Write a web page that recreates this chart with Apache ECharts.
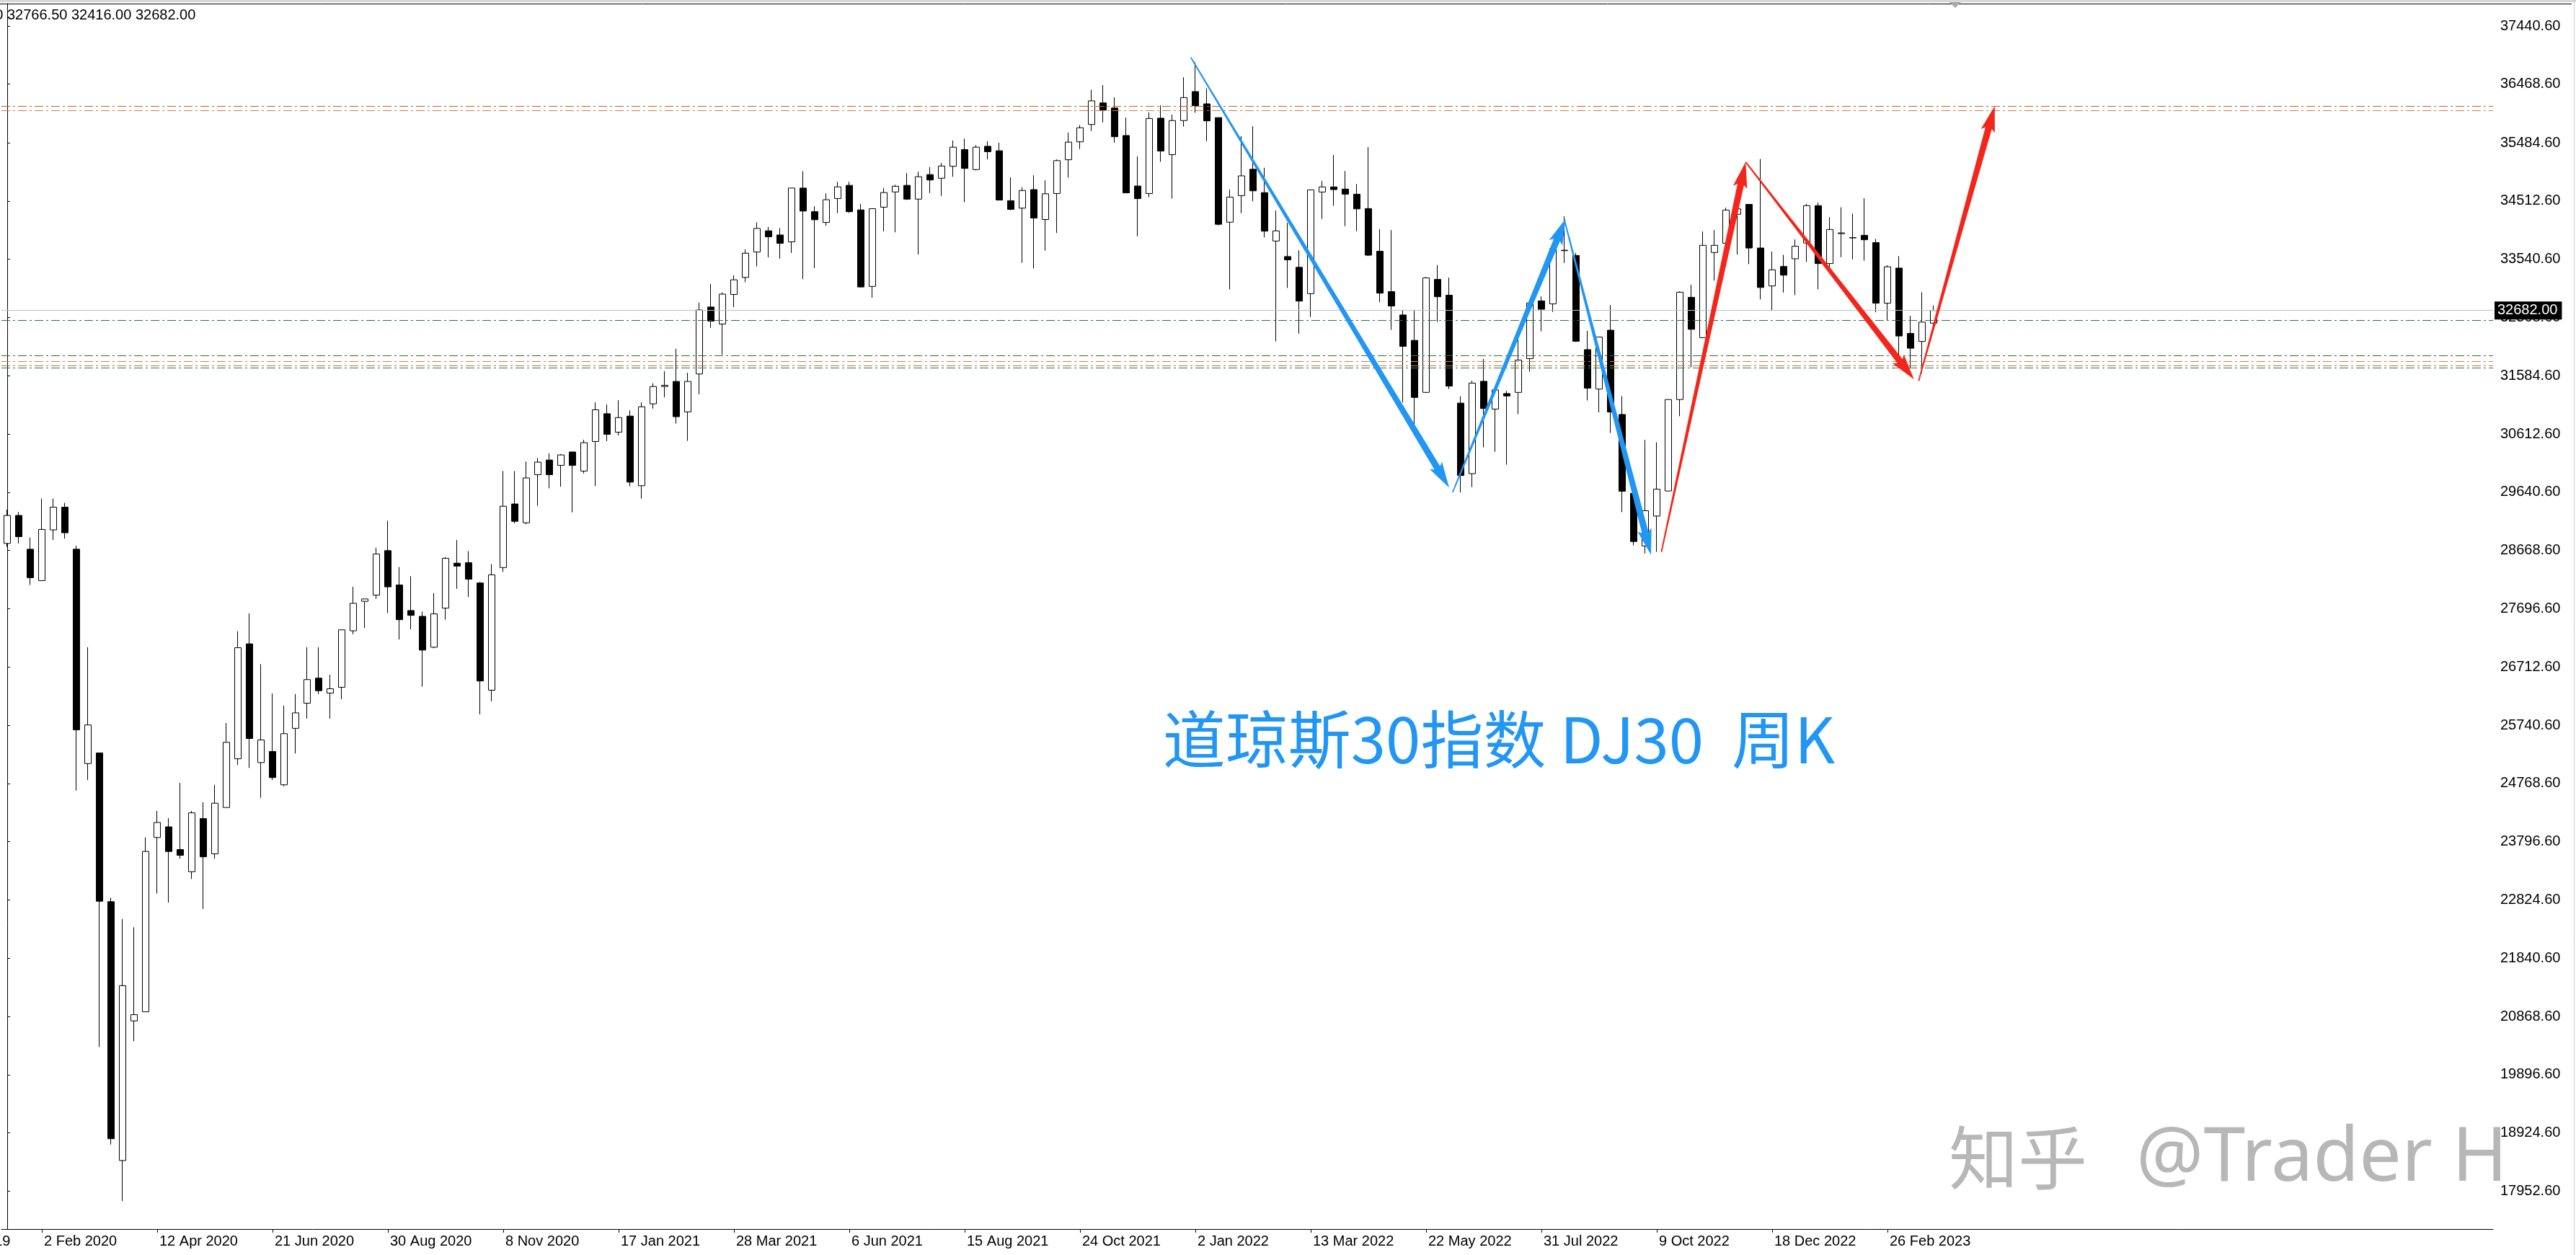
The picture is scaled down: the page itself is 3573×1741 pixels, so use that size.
<!DOCTYPE html>
<html><head><meta charset="utf-8">
<script src="https://cdn.jsdelivr.net/npm/echarts@6/dist/echarts.min.js"></script>
<style>html,body{margin:0;padding:0;background:#fff;overflow:hidden}#c{width:3573px;height:1741px}</style>
</head><body><div id="c"></div>
<script>
// ---- data (DJ30 weekly, first bar = week of 12 Jan 2020) ----
const startDate = '2020-01-12';
const opens = [28785,29253,28688,28163,29011,29391,28688,25101,25279,22791,
18461,20796,20949,23865,24043,23663,23292,24181,23591,24366,
25182,27105,25118,25304,24746,25691,26111,26531,26281,26378,
27323,27816,27920,28664,28090,27662,27565,27048,27702,28454,
28462,28123,26329,28381,29445,29130,29935,30180,30090,30315,
29995,30490,30955,30645,30915,29750,31120,31410,31495,30985,
31620,32740,32455,32950,33235,33660,34015,33945,33830,34730,
34335,34155,34555,34775,34365,33085,34410,34665,34775,34545,
34955,34894,35094,35374,35039,35429,35354,34519,34394,34704,
34204,34639,35204,35504,35794,36154,36069,35609,34764,34639,
35899,35289,35859,36344,36139,35909,34159,34604,35044,34654,
33844,33584,33404,32964,34664,34749,34713,34627,34387,33672,
32997,32607,32182,31312,33202,32937,31132,29952,31497,31032,
31292,31312,31877,32842,32792,33682,33602,32027,31367,32352,
30942,29622,28742,29242,29662,31192,32902,32227,33652,33807,
34292,34457,33727,33092,33418,33547,33811,34436,33467,33967,
33897,33940,33817,32804,33391,32298,32164,32470];
const highs = [29350,29310,28882,29536,29536,29463,28745,27048,25279,22856,
22500,22363,23865,24310,24189,24778,24310,24455,24746,25780,
27315,27614,26765,26273,26071,26265,27048,27048,26588,27339,
28058,27856,28712,29165,28389,28236,27646,27953,28559,28841,
28656,28139,28438,29997,29995,30155,30215,30295,30280,30315,
30520,31145,31110,31180,31010,31145,31465,31665,32040,31640,
32815,33125,32985,33270,33705,34155,34080,34060,34730,35010,
34425,34640,34835,34835,34465,34385,34730,34785,34980,35005,
35080,35149,35524,35559,35449,35514,35489,34909,34744,34944,
34859,35209,35659,35784,36374,36454,36249,35909,35259,35994,
36114,35959,36584,36834,36399,35909,34704,35599,35764,35069,
34354,34149,33689,34699,34849,35284,35015,34797,35417,34042,
34027,32687,32692,33242,33442,33232,31247,31507,31872,31417,
31337,32212,32847,32917,33737,34257,33642,32342,32237,32772,
31247,29867,30517,30477,31192,33002,33112,34002,34027,34402,
34382,34457,35217,33667,33612,33870,34463,34490,34242,34409,
34301,34559,33881,33440,33590,32594,32987,32766.5];
const lows = [28728,28785,28090,28163,28841,28866,24649,24827,20360,18728,
17782,20457,20949,22928,22775,23510,23171,22670,23510,24366,
25077,25029,24528,24827,24722,25271,25853,26265,25853,26176,
27266,27371,27856,27622,27177,27347,26386,27032,27509,28026,
27888,25925,26143,28308,29120,29105,29415,29705,29735,29305,
29955,29745,30495,30590,29740,29535,31040,31230,30790,30500,
31280,32390,31940,32740,33155,33420,33570,33550,33645,33205,
33390,34100,34310,34315,33070,32895,34005,33990,34530,33620,
34645,34599,34919,34494,35024,35209,34529,34359,33479,33384,
33684,33979,34904,35384,35684,35829,35489,34649,33924,34579,
35169,34554,35759,35989,35514,34104,33034,34309,34509,33904,
32164,33059,32294,32574,34214,34434,34093,34007,33592,32822,
32357,31142,30592,31302,32492,31367,29637,29727,30392,30317,
30102,30947,31657,32332,32657,33477,32157,31177,30977,30632,
29307,28752,28617,28642,29662,30912,31732,32227,33182,33807,
33617,33457,32867,32687,32982,32939,33493,33036,33397,33574,
33537,33515,32653,32514,31932,31717,31636,32416];
const closes = [29253,28898,28212,29019,29391,28963,25667,25748,22799,18825,
21386,20901,23631,24116,23631,23567,24277,23542,24439,25457,
27040,25521,25497,24867,25602,25950,26507,26321,26353,27339,
27783,27856,28607,28058,27509,27581,27000,27606,28535,28405,
28187,26483,28260,29407,29155,29880,30145,29935,30265,30090,
30470,31020,30610,30890,29810,31070,31410,31430,30905,31495,
32690,32505,32955,33195,33640,34055,33915,33805,34730,34345,
34200,34535,34750,34335,33075,34385,34655,34760,34545,34920,
34865,35099,35414,35059,35414,35339,34529,34374,34689,34229,
34634,35189,35499,35739,36189,36034,35589,34649,34554,35894,
35349,35859,36244,36109,35854,34124,34579,34934,34684,34009,
34014,33529,32839,34699,34749,34704,34628,34382,33607,32972,
32757,32082,31227,33227,32912,31417,29922,31467,31042,31352,
31252,31852,32807,32702,33717,33690,32167,31382,32237,30982,
29657,28817,29332,29692,31192,32987,32367,33772,33772,34362,
34382,33727,33067,33362,33273,33757,34436,33467,34037,33980,
33900,33865,32804,33413,32255,32050,32487,32682];
const emptyWeeksRight = 48;
const xTickLabels = ['2 Feb 2020','12 Apr 2020','21 Jun 2020','30 Aug 2020','8 Nov 2020','17 Jan 2021',
  '28 Mar 2021','6 Jun 2021','15 Aug 2021','24 Oct 2021','2 Jan 2022','13 Mar 2022','22 May 2022',
  '31 Jul 2022','9 Oct 2022','18 Dec 2022','26 Feb 2023'];
const cutTickLabel = '24 Nov 2019';
const yTickValues = [37440.6,36468.6,35484.6,34512.6,33540.6,32568.6,31584.6,30612.6,29640.6,28668.6,
  27696.6,26712.6,25740.6,24768.6,23796.6,22824.6,21840.6,20868.6,19896.6,18924.6,17952.6];
const yMin = 17314, yMax = 37816;
const levelValues = [36095,36027,32521,31927,31826,31758,31717];
const lastPrice = 32682.00;
// arrows: [fromIndex, fromPrice] -> [toIndex, toPrice]
const arrowFrom = [[102.6,36918],[125.3,29639],[135.0,34192],[143.4,28642],[150.7,35167],[165.7,31501]];
const arrowTo   = [[125.0,29717],[135.1,34217],[142.5,28592],[150.7,35167],[165.3,31529],[172.3,36104]];
const titleText = '道琼斯30指数 DJ30  周K';
const wmText1 = '知乎', wmText2 = '@Trader H';

// ---- styles ----
const levelColors = ['#b4643c','#e07b3c','#2e6b46','#2e6b46','#e07b3c','#c8703a','#3d7a3d'];
const arrowColors = ['#2196f3','#2196f3','#2196f3','#f2261b','#f2261b','#f2261b'];
const axisFont = 'Liberation Sans';

const months = ['Jan','Feb','Mar','Apr','May','Jun','Jul','Aug','Sep','Oct','Nov','Dec'];
const t0 = Date.parse(startDate + 'T00:00:00Z');
const nCat = opens.length + emptyWeeksRight;
const cats = [];
for (let i = 0; i < nCat; i++) {
  const d = new Date(t0 + i * 7 * 86400000);
  cats.push(d.getUTCDate() + ' ' + months[d.getUTCMonth()] + ' ' + d.getUTCFullYear());
}
const kData = opens.map((o, i) => [o, closes[i], lows[i], highs[i]]);
const arrowData = arrowFrom.map((f, i) => [f[0], f[1], arrowTo[i][0], arrowTo[i][1]]);
const showTick = (idx, val) => idx < opens.length && xTickLabels.indexOf(val) >= 0;

const last = opens.length - 1;
const headerText = opens[last].toFixed(2) + ' ' + highs[last].toFixed(2) + ' ' + lows[last].toFixed(2) + ' ' + closes[last].toFixed(2);

function renderArrow(params, api) {
  const p0 = api.coord([api.value(0), api.value(1)]);
  const p1 = api.coord([api.value(2), api.value(3)]);
  const dx = p1[0] - p0[0], dy = p1[1] - p0[1];
  const len = Math.hypot(dx, dy) || 1;
  const ux = dx / len, uy = dy / len, nx = -uy, ny = ux;
  const headL = 32, headW = 10, w0 = 0.9, w1 = 4.6;
  const bx = p1[0] - ux * headL, by = p1[1] - uy * headL;
  const pts = [
    [p0[0] + nx * w0, p0[1] + ny * w0],
    [bx + nx * w1, by + ny * w1],
    [bx + nx * headW - ux * 4, by + ny * headW - uy * 4],
    [p1[0], p1[1]],
    [bx - nx * headW - ux * 4, by - ny * headW - uy * 4],
    [bx - nx * w1, by - ny * w1],
    [p0[0] - nx * w0, p0[1] - ny * w0]
  ];
  return { type: 'polygon', shape: { points: pts }, style: { fill: arrowColors[params.dataIndex] } };
}

const markLines = levelValues.map((v, i) => ({
  yAxis: v, lineStyle: { color: levelColors[i], type: [12, 4, 3, 4], width: 1 }, label: { show: false }
}));
markLines.push({
  yAxis: lastPrice, lineStyle: { color: '#c0c0c0', type: 'solid', width: 1 },
  label: { show: true, position: 'end', distance: 2, formatter: lastPrice.toFixed(2),
    backgroundColor: '#000', color: '#fff', padding: [3, 6, 2, 4], fontSize: 20, fontFamily: axisFont }
});

const chart = echarts.init(document.getElementById('c'), null, { renderer: 'canvas' });
chart.setOption({
  animation: false,
  backgroundColor: '#fff',
  grid: { left: 2, top: 5, width: 3456, height: 1700, show: false },
  xAxis: [{
    type: 'category', data: cats, boundaryGap: true,
    axisLine: { show: true, onZero: false, lineStyle: { color: '#000', width: 1 } },
    axisTick: { show: true, alignWithLabel: true, interval: showTick, length: 5, lineStyle: { color: '#000' } },
    axisLabel: { interval: showTick, align: 'left', margin: 7, padding: [0, 0, 0, 3],
      color: '#000', fontSize: 20, fontFamily: axisFont },
    splitLine: { show: false }
  }, {
    type: 'value', min: -0.5, max: nCat - 0.5, show: false
  }],
  yAxis: {
    type: 'value', position: 'right', min: yMin, max: yMax,
    axisLine: { show: true, lineStyle: { color: '#000', width: 1 } },
    axisTick: { show: true, length: 4, customValues: yTickValues, lineStyle: { color: '#000' } },
    axisLabel: { customValues: yTickValues, formatter: v => Number(v).toFixed(2), margin: 10,
      color: '#000', fontSize: 20, fontFamily: axisFont },
    splitLine: { show: false }
  },
  series: [{
    type: 'candlestick', xAxisIndex: 0, yAxisIndex: 0, data: kData, barWidth: 10,
    itemStyle: { color: '#fff', color0: '#000', borderColor: '#000', borderColor0: '#000', borderWidth: 1 },
    markLine: { silent: true, symbol: ['none', 'none'], animation: false, data: markLines }
  }, {
    type: 'custom', xAxisIndex: 1, yAxisIndex: 0, data: arrowData, renderItem: renderArrow,
    encode: { x: [0, 2], y: [1, 3] }, clip: false, z: 5, silent: true
  }],
  graphic: [
    { type: 'rect', shape: { x: 0, y: 0, width: 3573, height: 3 }, style: { fill: '#d8d8d8' }, silent: true },
    { type: 'line', shape: { x1: 0, y1: 5.5, x2: 3567, y2: 5.5 }, style: { stroke: '#000', lineWidth: 1 }, silent: true },
    { type: 'line', shape: { x1: 3570.5, y1: 0, x2: 3570.5, y2: 1741 }, style: { stroke: '#d0d0d0', lineWidth: 1 }, silent: true },
    { type: 'polygon', shape: { points: [[2704, 3], [2720, 3], [2712, 11]] }, style: { fill: '#a8a8a8' }, silent: true },
    { type: 'text', x: -79, y: 21, style: { text: headerText, fill: '#000', font: '20px "' + axisFont + '"', verticalAlign: 'middle', align: 'left' }, silent: true },
    { type: 'text', x: -99, y: 1712, style: { text: cutTickLabel, fill: '#000', font: '20px "' + axisFont + '"', verticalAlign: 'top', align: 'left' }, silent: true },
    { type: 'text', x: 2079, y: 1026, style: { text: titleText, fill: '#2196f3', font: '87px "Noto Sans CJK SC"', align: 'center', verticalAlign: 'middle' }, silent: true },
    { type: 'rect', shape: { x: 3436, y: 1554, width: 26, height: 77 }, style: { fill: '#fff' }, silent: true, z: 100 },
    { type: 'text', x: 2703, y: 1606, style: { text: wmText1, fill: '#b7b7b7', font: '96px "Noto Sans CJK SC"', align: 'left', verticalAlign: 'middle' }, silent: true, z: 101 },
    { type: 'text', x: 2963, y: 1608, style: { text: wmText2, fill: '#b7b7b7', font: '104px "Noto Sans"', align: 'left', verticalAlign: 'middle' }, silent: true, z: 101 }
  ]
});
</script>
</body></html>
